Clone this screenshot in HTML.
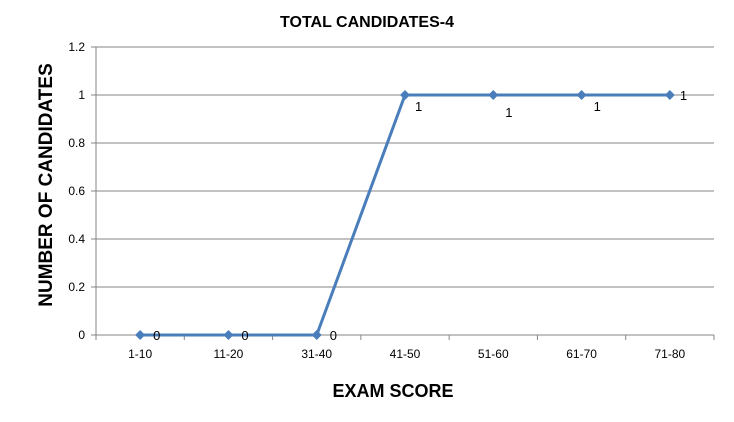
<!DOCTYPE html>
<html><head><meta charset="utf-8"><style>
html,body{margin:0;padding:0;background:#fff;}
svg{display:block;font-family:"Liberation Sans",sans-serif;}
</style></head><body>
<svg id="chart" width="734" height="422">
<rect width="734" height="422" fill="#fff"/>
<text x="367" y="27" text-anchor="middle" font-size="16" font-weight="bold">TOTAL CANDIDATES-4</text>
<text transform="translate(52,185) rotate(-90)" text-anchor="middle" font-size="19" font-weight="bold">NUMBER OF CANDIDATES</text>
<text x="393" y="397" text-anchor="middle" font-size="18" font-weight="bold">EXAM SCORE</text>
<g id="grid"></g><g id="axes"></g><g id="series"></g>
</svg>
<script>
const categories=["1-10","11-20","31-40","41-50","51-60","61-70","71-80"];
const values=[0,0,0,1,1,1,1];
const yTicks=[0,0.2,0.4,0.6,0.8,1,1.2];
const labelOffsets=[[13,5],[13,5],[13,5],[10,16],[12,22],[12,16],[10,5]];
const L=96,R=714,T=47,B=335,yMax=1.2;
const ns="http://www.w3.org/2000/svg";
const step=(R-L)/categories.length;
const x=i=>L+step*(i+0.5);
const y=v=>B-(v/yMax)*(B-T);
function mk(tag,attrs,parent,text){const e=document.createElementNS(ns,tag);for(const k in attrs)e.setAttribute(k,attrs[k]);if(text!==undefined)e.textContent=text;parent.appendChild(e);return e;}
const grid=document.getElementById('grid'),axes=document.getElementById('axes'),series=document.getElementById('series');
yTicks.forEach(t=>{
  if(t>0){const g=mk('line',{x1:L,x2:R,y1:y(t),y2:y(t),stroke:'#868686','stroke-width':1},grid);
  
  }
  const tk=mk('line',{x1:L-5,x2:L,y1:y(t),y2:y(t),stroke:'#868686'},axes);
  
  
  const lb=mk('text',{x:L-11,y:y(t)+4,'text-anchor':'end','font-size':12},axes,String(t));
  
  
});
const ya=mk('line',{x1:L,x2:L,y1:T,y2:B,stroke:'#868686'},axes);


const xa=mk('line',{x1:L,x2:R,y1:B,y2:B,stroke:'#868686'},axes);


for(let i=0;i<=categories.length;i++){
  const tk=mk('line',{x1:L+step*i,x2:L+step*i,y1:B,y2:B+5,stroke:'#868686'},axes);
  
  
}
categories.forEach((c,i)=>{
  const lb=mk('text',{x:x(i),y:B+23,'text-anchor':'middle','font-size':12},axes,c);
  
  
});
const pl=mk('polyline',{points:values.map((v,i)=>x(i)+','+y(v)).join(' '),fill:'none',stroke:'#4a7ebb','stroke-width':3,'stroke-linejoin':'round'},series);


values.forEach((v,i)=>{
  const cx=x(i),cy=y(v);
  const m=mk('polygon',{points:`${cx},${cy-5} ${cx+5},${cy} ${cx},${cy+5} ${cx-5},${cy}`,fill:'#4a7ebb'},series);
  
  
  const o=labelOffsets[i];
  const t=mk('text',{x:cx+o[0],y:cy+o[1],'font-size':13},series,String(v));
  
  
});
</script>
</body></html>
